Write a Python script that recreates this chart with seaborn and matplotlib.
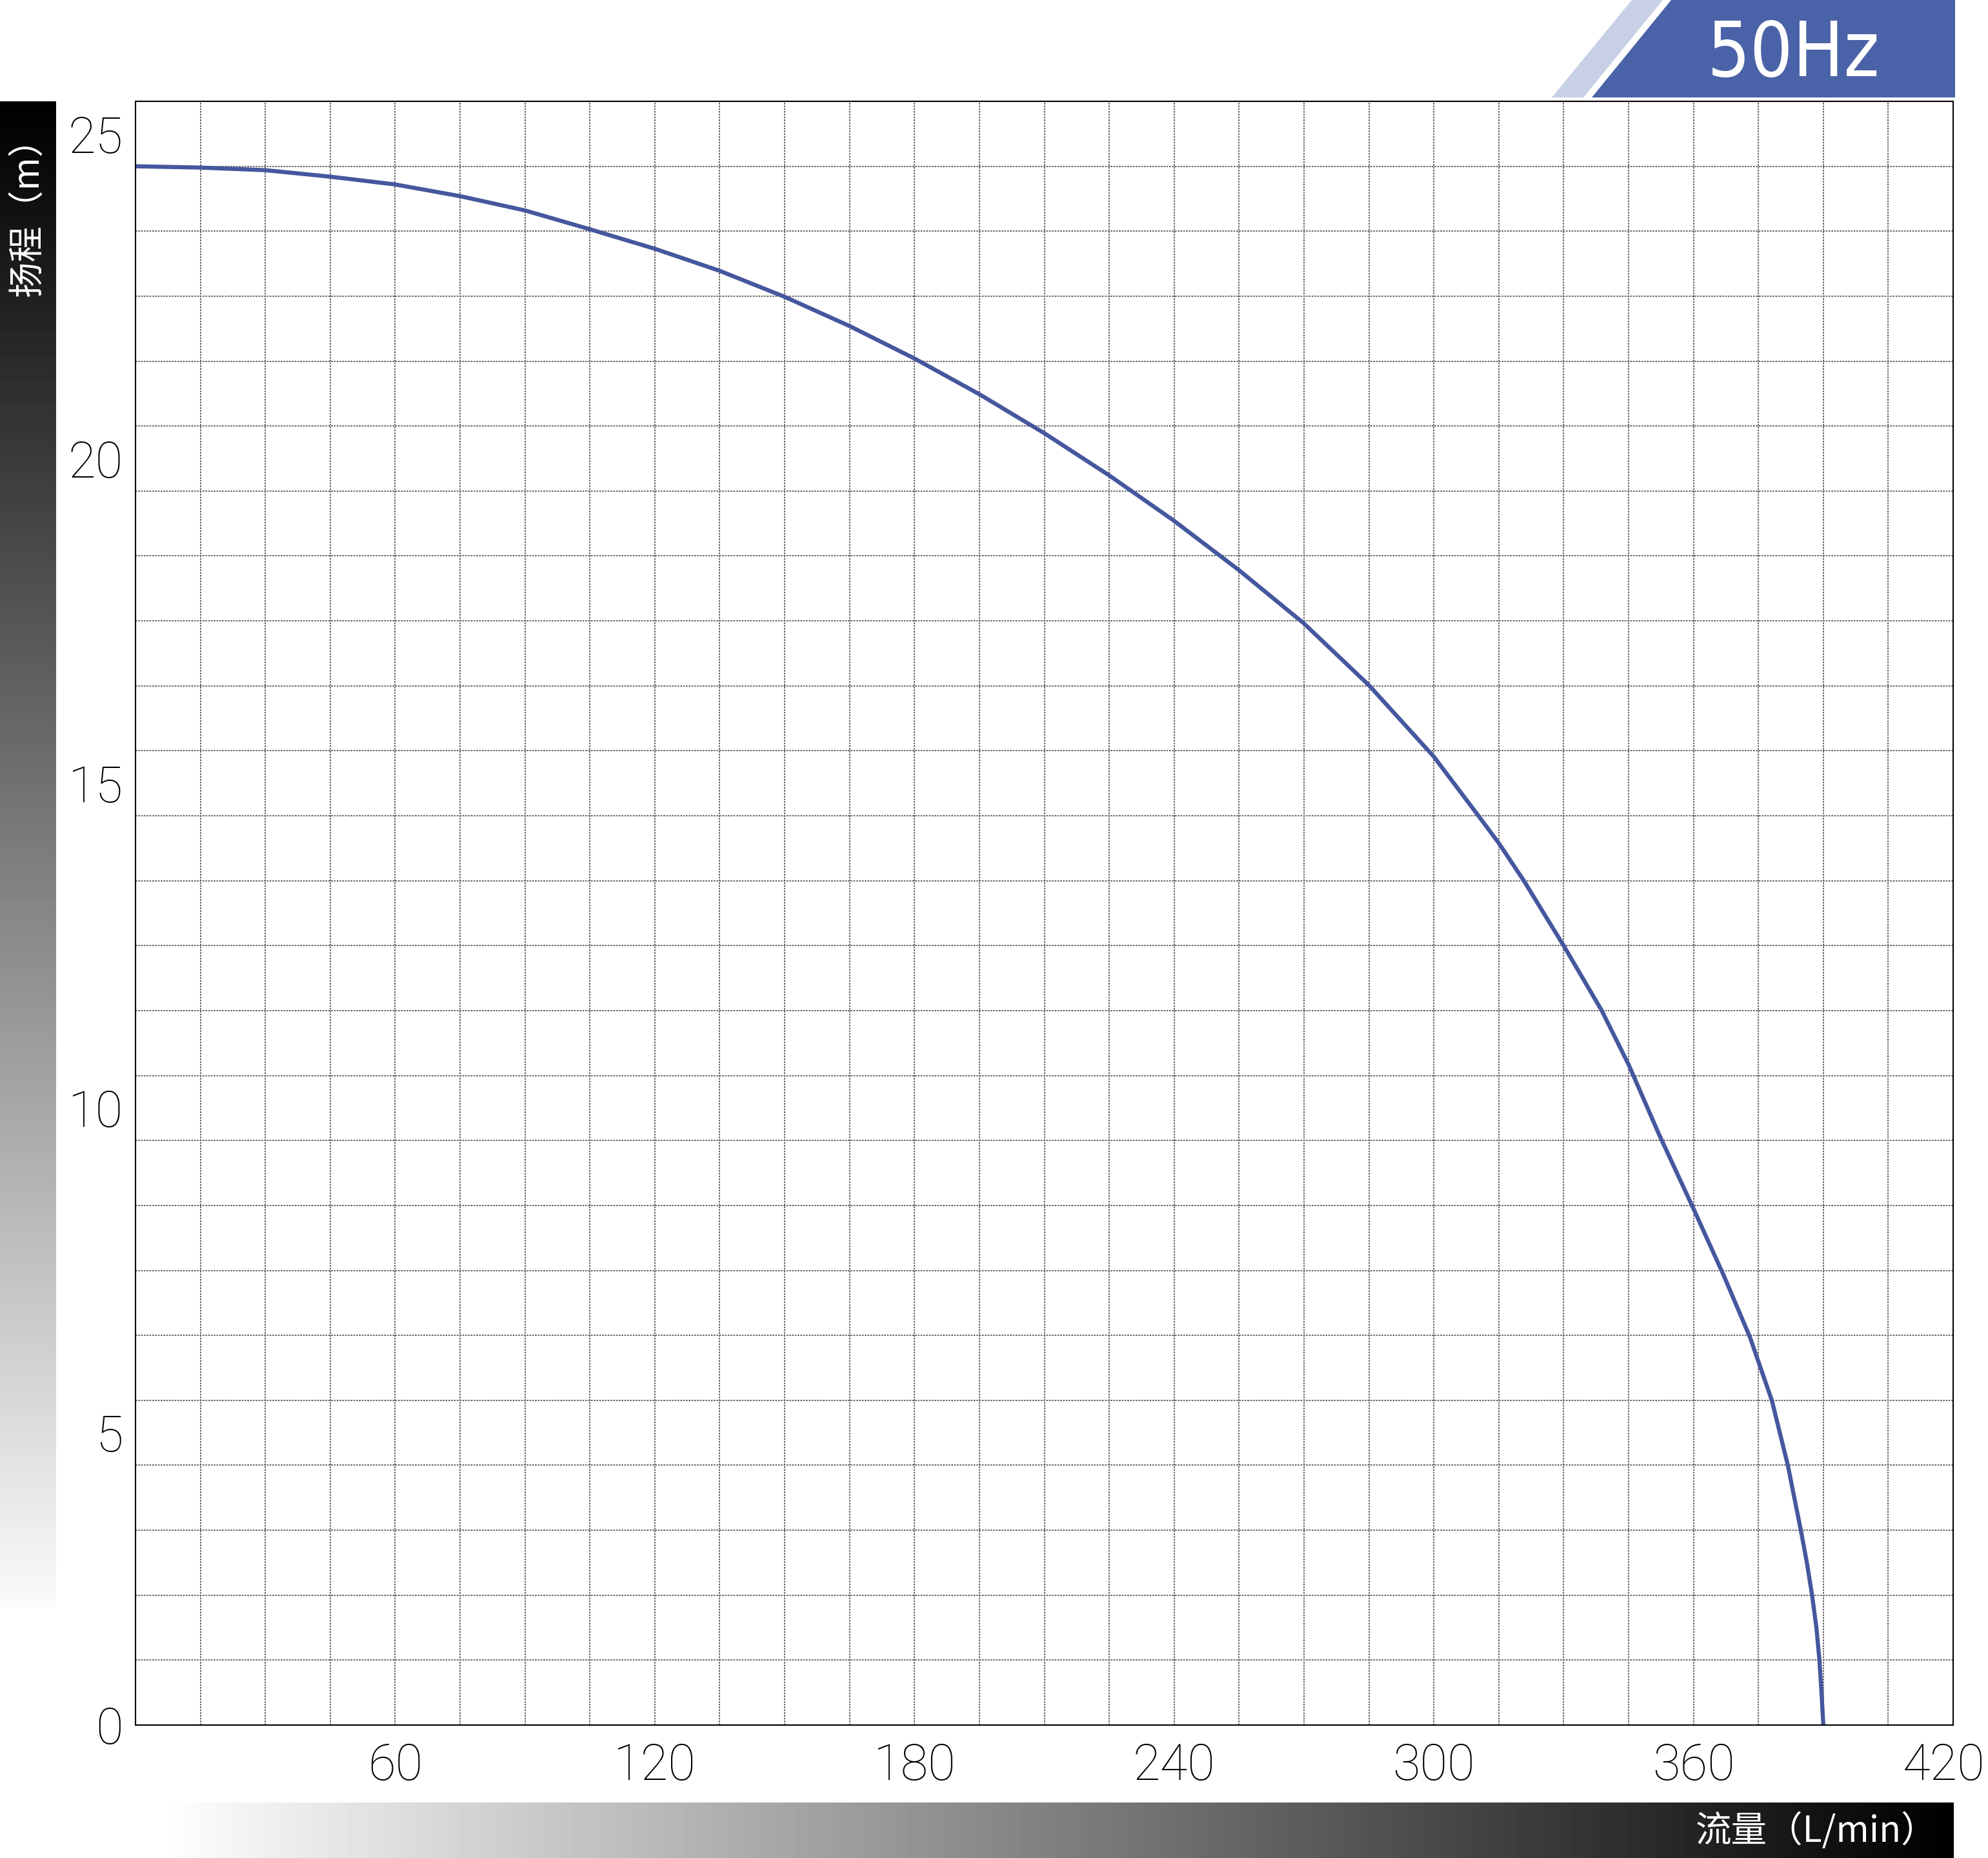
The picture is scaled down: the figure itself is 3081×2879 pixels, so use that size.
import numpy as np
import matplotlib
matplotlib.use("Agg")
import matplotlib.pyplot as plt
import matplotlib.transforms as mtransforms
from matplotlib.patches import Polygon
import seaborn as sns

# Datos de la curva (caudal L/min, altura m)
flow = [0, 15, 30, 45, 60, 75, 90, 105, 120, 135, 150, 165, 180, 195, 210, 225,
        240, 255, 270, 285, 300, 310.3, 315, 320.8, 330, 338.8, 345, 352, 360,
        367, 373, 378.1, 381.8, 384.8, 386.2, 387.4, 388.4, 389.1, 389.6, 390]
head = [24.0, 23.98, 23.94, 23.84, 23.72, 23.54, 23.32, 23.03, 22.73, 22.39, 21.99,
        21.54, 21.04, 20.49, 19.89, 19.24, 18.54, 17.78, 16.96, 16.01, 14.91,
        14.0, 13.58, 13.0, 12.0, 11.0, 10.17, 9.1, 7.95, 6.92, 5.98, 5.0, 4.0,
        3.0, 2.5, 2.0, 1.5, 1.0, 0.48, 0.0]

x_ticks = [0, 60, 120, 180, 240, 300, 360, 420]
x_labels = ['', '60', '120', '180', '240', '300', '360', '420']
y_ticks = [0, 5, 10, 15, 20, 25]
y_labels = ['0', '5', '10', '15', '20', '25']

sns.set_theme(style='white')
plt.rcParams['font.family'] = ['Roboto', 'Lato', 'DejaVu Sans']

W, H = 3081, 2879
fig = plt.figure(figsize=(W / 100, H / 100), dpi=100)

# Fondo: barras degradadas y banner
bg = fig.add_axes([0, 0, 1, 1])
bg.axis('off')
grad_v = np.linspace(0, 0.98, 256).reshape(-1, 1)
bg.imshow(grad_v, cmap='gray', vmin=0, vmax=1, aspect='auto',
          extent=(0, 87, 2490, 157), interpolation='bilinear')
grad_h = np.linspace(1, 0, 256).reshape(1, -1)
bg.imshow(grad_h, cmap='gray', vmin=0, vmax=1, aspect='auto',
          extent=(243, 3028, 2879, 2793), interpolation='bilinear')
bg.add_patch(Polygon([(2529, 0), (2577, 0), (2454, 151), (2405, 151)],
                     closed=True, facecolor='#c8d0e6', edgecolor='none'))
bg.add_patch(Polygon([(2590, 0), (3030, 0), (3030, 151), (2467, 151)],
                     closed=True, facecolor='#4a62a7', edgecolor='none'))
bg.text(2780, 86, '50Hz', color='white', fontsize=84, ha='center', va='center',
        family=['Liberation Sans Narrow', 'DejaVu Sans'], fontstretch='condensed')
bg.text(43, 322, '扬程（m）', color='white', fontsize=40, rotation=90,
        ha='center', va='center', family=['Noto Sans CJK SC', 'DejaVu Sans'])
bg.text(2815, 2838, '流量（L/min）', color='white', fontsize=40,
        ha='center', va='center', family=['Noto Sans CJK SC', 'DejaVu Sans'])
bg.set_xlim(0, W)
bg.set_ylim(H, 0)

# Grafico principal
ax = fig.add_axes([210 / W, 1 - 2673 / H, (3027 - 210) / W, (2673 - 157) / H])
sns.lineplot(x=flow, y=head, ax=ax, color='#45579e', linewidth=4.6,
             sort=False, estimator=None, solid_joinstyle='round')
ax.set_xlim(0, 420)
ax.set_ylim(0, 25)
ax.set_xticks(x_ticks)
ax.set_xticklabels(x_labels)
ax.set_yticks(y_ticks)
ax.set_yticklabels(y_labels)
ax.set_xticks(np.arange(0, 421, 15), minor=True)
ax.set_yticks(np.arange(0, 26, 1), minor=True)
ax.tick_params(which='both', length=0)
ax.tick_params(axis='x', pad=19, labelsize=56, labelcolor='black')
ax.tick_params(axis='y', pad=14, labelsize=56, labelcolor='black')
for lab in ax.get_xticklabels() + ax.get_yticklabels():
    lab.set_fontweight('light')
ax.grid(which='both', color='#6b6566', linewidth=1.45, linestyle=(0, (1.3, 0.85)))
for s in ax.spines.values():
    s.set_color('black')
    s.set_linewidth(1.5)
    s.set_visible(True)
ax.set_xlabel('')
ax.set_ylabel('')

# Etiquetas del eje Y desplazadas medio cuadro hacia abajo (excepto 0)
shift = mtransforms.ScaledTranslation(0, -0.503, fig.dpi_scale_trans)
for tick in ax.yaxis.get_major_ticks()[1:]:
    tick.label1.set_transform(tick.label1.get_transform() + shift)

# La ultima etiqueta del eje X se ajusta al borde derecho
last = ax.xaxis.get_major_ticks()[-1].label1
last.set_horizontalalignment('right')
last.set_transform(last.get_transform() +
                   mtransforms.ScaledTranslation(0.5, 0, fig.dpi_scale_trans))

fig.savefig('out.png', dpi=100, facecolor='white')
